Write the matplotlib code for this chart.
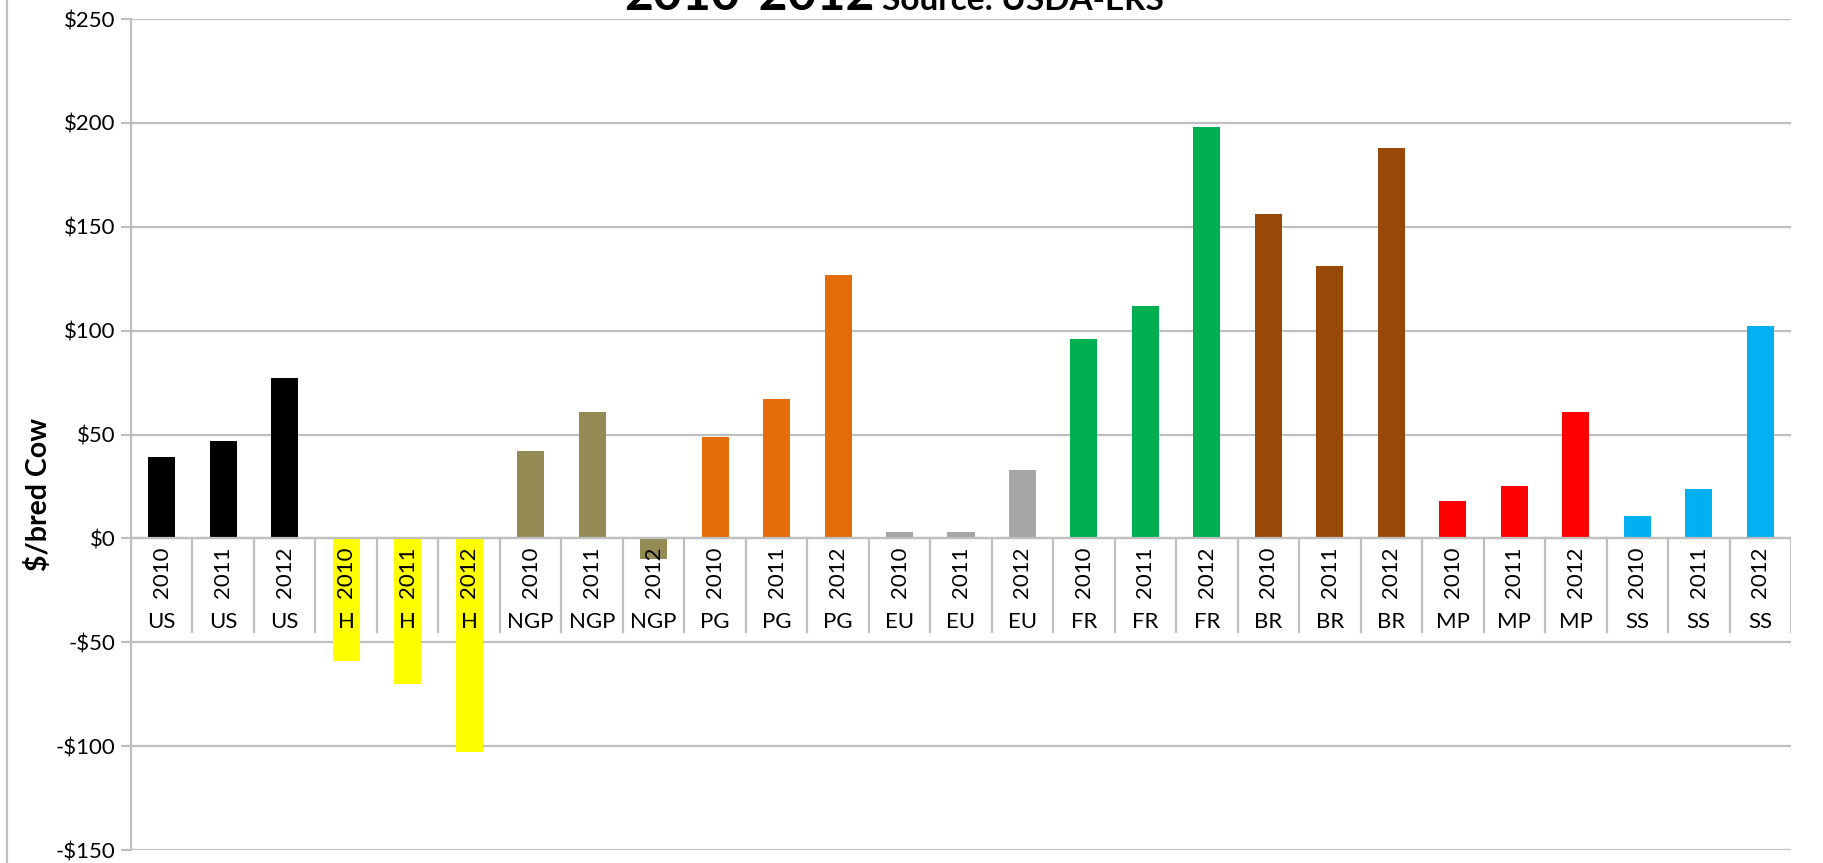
import matplotlib
matplotlib.use("Agg")
import matplotlib.pyplot as plt
from matplotlib.lines import Line2D

# =========================
# DATA
# =========================
regions = ["US", "H", "NGP", "PG", "EU", "FR", "BR", "MP", "SS"]
years = ["2010", "2011", "2012"]
region_colors = ["#000000", "#FFFF00", "#948A54", "#E46C0A", "#A6A6A6",
                 "#00B050", "#984807", "#FF0000", "#00B0F0"]
values = [
    39, 47, 77,        # US
    -59, -70, -103,    # H
    42, 61, -10,       # NGP
    49, 67, 127,       # PG
    3, 3, 33,          # EU
    96, 112, 198,      # FR
    156, 131, 188,     # BR
    18, 25, 61,        # MP
    11, 24, 102,       # SS
]
y_ticks = [-150, -100, -50, 0, 50, 100, 150, 200, 250]

# =========================
# FIGURE
# =========================
plt.rcParams['font.family'] = ['Lato', 'DejaVu Sans']
GRID = "#BFBFBF"

fig = plt.figure(figsize=(18.24, 8.63), dpi=100)
ax = fig.add_axes([131 / 1824, 1 - 850 / 863, (1791 - 131) / 1824, (850 - 19) / 863])

labels_year = [yr for r in regions for yr in years]
labels_region = [r for r in regions for yr in years]
colors = [c for c in region_colors for yr in years]
x = list(range(len(values)))

ax.bar(x, values, width=0.44, color=colors, zorder=2)

ax.set_xlim(-0.5, len(values) - 0.5)
ax.set_ylim(-150, 250)
ax.set_yticks(y_ticks)
ax.set_yticklabels([("-$%d" % -v) if v < 0 else ("$%d" % v) for v in y_ticks],
                   fontsize=16)
ax.set_xticks([])
ax.yaxis.grid(True, color=GRID, lw=1.6, zorder=0)
ax.set_axisbelow(True)
ax.tick_params(axis="y", length=7, width=1.5, color=GRID, pad=4)

for s in ["top", "right", "bottom"]:
    ax.spines[s].set_visible(False)
ax.spines["left"].set_color(GRID)
ax.spines["left"].set_linewidth(1.6)

# category table below zero line
ax.axhline(0, color=GRID, lw=1.6, zorder=3)
for k in range(len(values) + 1):
    ax.plot([k - 0.5, k - 0.5], [0, -45], color=GRID, lw=1.6, zorder=1)
for i in x:
    ax.text(i, -16.4, labels_year[i], rotation=90, ha="center", va="center",
            fontsize=16, zorder=4)
    ax.text(i, -40.4, labels_region[i], ha="center", va="center",
            fontsize=16, zorder=4)

# y label
fig.text(39 / 1824, 1 - 494 / 863, "$/bred Cow", rotation=90, ha="center",
         va="center", fontsize=20.5, fontweight="bold")

# title, cut off at the top as in the original
fig.text(875 / 1824, 1 - 10 / 863, "2010-2012", ha="right", va="baseline",
         fontsize=36, fontweight="bold")
fig.text(882 / 1824, 1 - 10 / 863, "Source: USDA-ERS", ha="left", va="baseline",
         fontsize=24, fontweight="bold")

# chart area border (left edge)
fig.add_artist(Line2D([7 / 1824, 7 / 1824], [0, 1], color=GRID, lw=1.6))

fig.savefig("out.png", dpi=100)
